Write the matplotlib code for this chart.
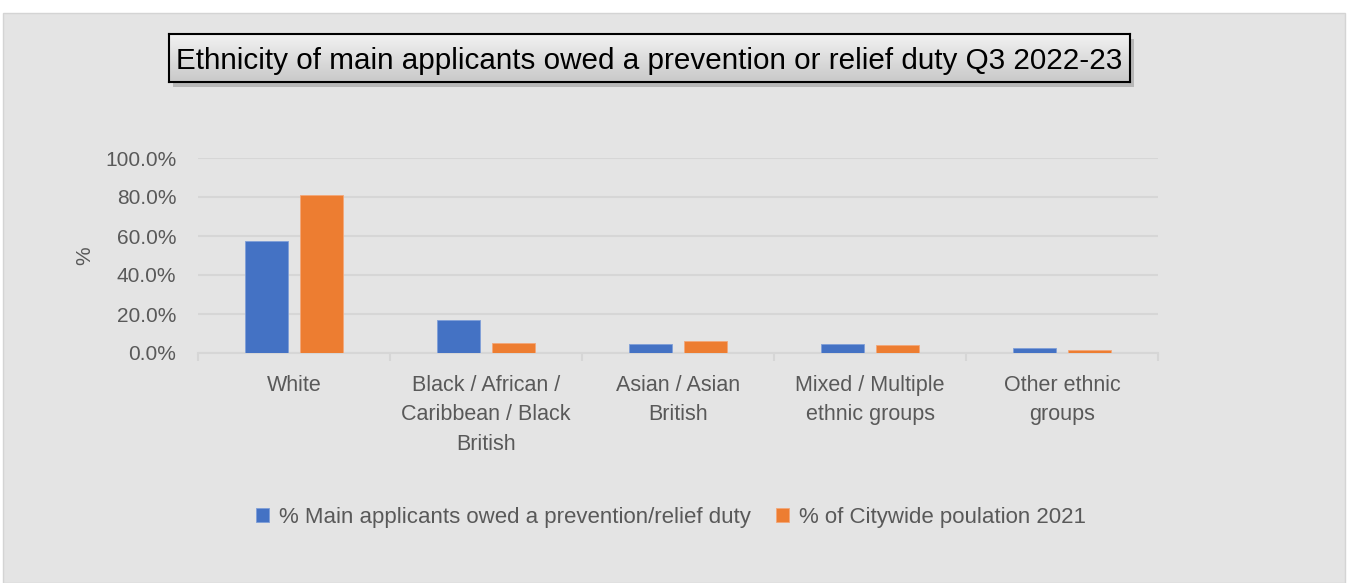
import matplotlib
matplotlib.use("Agg")
import matplotlib.pyplot as plt
import numpy as np
from matplotlib.patches import Rectangle
from matplotlib.ticker import FuncFormatter, MultipleLocator

categories = ["White", "Black / African /\nCaribbean / Black\nBritish", "Asian / Asian\nBritish",
              "Mixed / Multiple\nethnic groups", "Other ethnic\ngroups"]
main_applicants = [57.4, 16.9, 4.8, 4.6, 2.4]
citywide_2021 = [81.0, 5.3, 6.2, 4.1, 1.5]
series_names = ["% Main applicants owed a prevention/relief duty", "% of Citywide poulation 2021"]
title = "Ethnicity of main applicants owed a prevention or relief duty Q3 2022-23"

FONT = ['Liberation Sans', 'DejaVu Sans']
plt.rcParams['font.family'] = FONT

W, H = 1350, 583
fig = plt.figure(figsize=(W / 100, H / 100), dpi=100)
fig.patch.set_facecolor("white")

def fx(px):
    return px / W

def fy(py):
    return 1 - py / H

# chart area background
fig.patches.append(Rectangle((fx(3), 0), fx(1345) - fx(3), fy(13), transform=fig.transFigure,
                             facecolor="#e4e4e4", edgecolor="#d4d4d4", lw=1.0, zorder=-2))

# main axes
ax = fig.add_axes([fx(198), fy(353), fx(1158) - fx(198), (353 - 158) / H])
ax.set_facecolor("none")
x = np.arange(len(categories))
bw = 0.224
off = 0.142
blue = "#4472C4"
orange = "#ED7D31"
ax.bar(x - off, main_applicants, bw, color=blue, edgecolor="#7f9fd8", lw=0.6, zorder=3)
ax.bar(x + off, citywide_2021, bw, color=orange, edgecolor="#f3a779", lw=0.6, zorder=3)
ax.set_xlim(-0.5, len(categories) - 0.5)
ax.set_ylim(0, 100)
ax.yaxis.set_major_locator(MultipleLocator(20))
ax.yaxis.set_major_formatter(FuncFormatter(lambda v, p: f"{v:.1f}%"))
ax.grid(axis="y", color="#d6d6d6", lw=1.5, zorder=0)
ax.set_axisbelow(True)
for s in ["top", "right", "left"]:
    ax.spines[s].set_visible(False)
ax.spines["bottom"].set_color("#d6d6d6")
ax.spines["bottom"].set_linewidth(1.5)
ax.tick_params(axis="y", length=0, labelsize=15, labelcolor="#595959", pad=15.5)
ax.set_xticks(np.arange(-0.5, len(categories), 1.0))
ax.set_xticklabels([])
ax.tick_params(axis="x", which="major", length=6, width=1.5, color="#d6d6d6")
ax.set_xticks(x, minor=True)
ax.set_xticklabels(categories, minor=True, fontsize=15.5, color="#595959", linespacing=1.56)
ax.tick_params(axis="x", which="minor", length=0, pad=15.5)
ax.set_ylabel("%", fontsize=15, color="#595959", labelpad=8)

# legend
ax.legend(series_names, loc="center",
          bbox_to_anchor=((671 - 198) / 960, (fy(517) - fy(353)) / ((353 - 158) / H)),
          ncol=2, frameon=False, fontsize=16, labelcolor="#595959", handlelength=0.6,
          handleheight=0.6, handletextpad=0.45, columnspacing=1.1)

# title box with gradient and shadow
bx0, bx1, by0, by1 = 169, 1130, 34, 82
fig.patches.append(Rectangle((fx(bx0 + 4), fy(by1 + 5)), fx(bx1) - fx(bx0), fy(by0) - fy(by1),
                             transform=fig.transFigure, facecolor="#9a9a9a", edgecolor="none",
                             alpha=0.6, zorder=-1))
tax = fig.add_axes([fx(bx0), fy(by1), fx(bx1) - fx(bx0), fy(by0) - fy(by1)])
tax.set_zorder(2)
grad = np.linspace(0, 1, 100).reshape(-1, 1)
tax.imshow(grad, aspect="auto", cmap=matplotlib.colors.LinearSegmentedColormap.from_list(
    "g", ["#f2f2f2", "#c9c9c9"]), extent=[0, 1, 1, 0])
tax.set_xlim(0, 1)
tax.set_ylim(1, 0)
tax.set_xticks([])
tax.set_yticks([])
for s in tax.spines.values():
    s.set_linewidth(1.5)
    s.set_color("black")
tax.text(0.5, 0.43, title, ha="center", va="center", fontsize=21.3, color="black",
         transform=tax.transAxes)

fig.savefig("out.png", dpi=100, facecolor=fig.get_facecolor())
